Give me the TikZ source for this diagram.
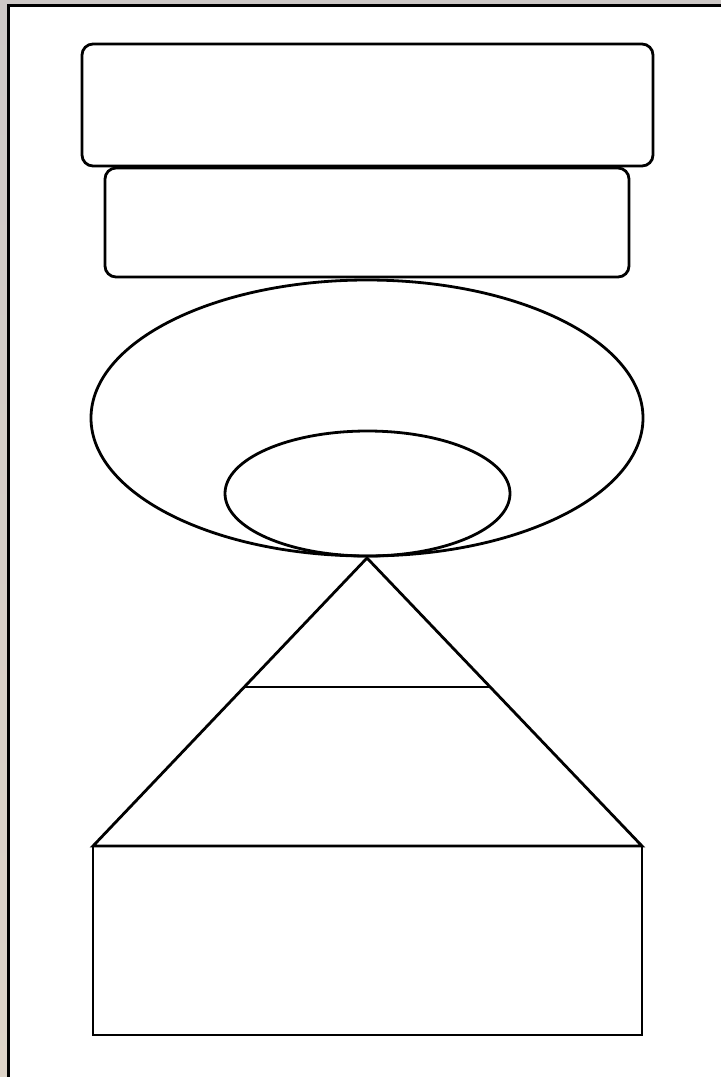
\documentclass[tikz,border=0pt]{standalone}
\usetikzlibrary{shapes.geometric,calc}
\definecolor{stripL}{RGB}{205,200,198}
\definecolor{stripB}{RGB}{222,212,200}
\tikzset{
  shape line/.style={draw=black, line width=2.8pt},
  rbox/.style={shape line, rounded corners=11pt},
}
\begin{document}
\begin{tikzpicture}[x=1pt,y=-1pt]
\useasboundingbox (0,0) rectangle (721,1077);
\fill[white] (0,0) rectangle (721,1077);
% window frame strips
\shade[top color=stripL, bottom color=stripB] (0,0) rectangle (7,1077);
\fill[stripL] (0,0) rectangle (721,4);
\draw[line width=2.8pt] (8.3,1077) -- (8.3,5.3) -- (721,5.3);
% rounded boxes
\draw[rbox] (82,44) rectangle (653,166);
\draw[rbox] (105,168) rectangle (629,277);
% ellipses
\node[shape line, ellipse, minimum width=552pt, minimum height=276pt, inner sep=0pt] (big) at (367,418) {};
\node[shape line, ellipse, minimum width=285pt, minimum height=125pt, inner sep=0pt] (small) at (367.5,493.5) {};
% triangle
\coordinate (apex) at (367,558);
\coordinate (bl) at (93,846);
\coordinate (br) at (642,846);
\draw[shape line, line join=miter] (bl) -- (apex) -- (br) -- cycle;
\draw[shape line] ($(apex)!0.448!(bl)$) -- ($(apex)!0.448!(br)$);
% bottom rectangle
\draw[shape line] (93,846) rectangle (642,1035);
\end{tikzpicture}
\end{document}
